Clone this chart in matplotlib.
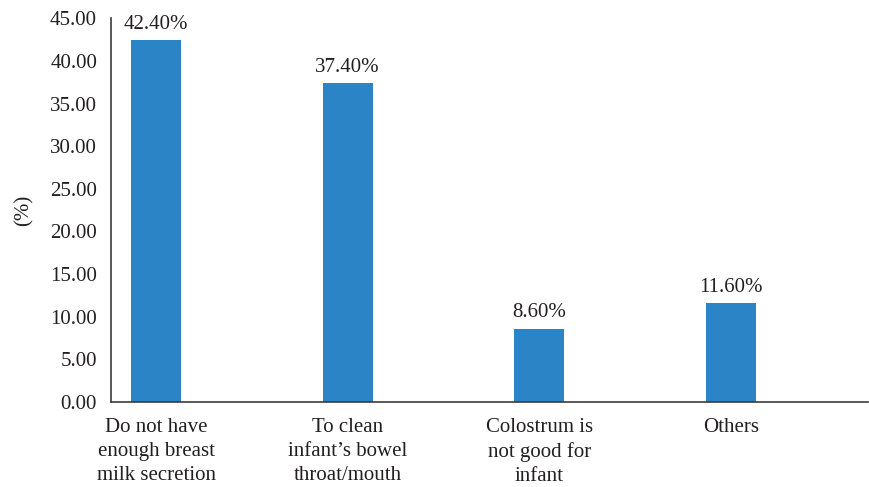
import matplotlib.pyplot as plt
from matplotlib.ticker import FormatStrFormatter

categories = ['Do not have\nenough breast\nmilk secretion',
              'To clean\ninfant\u2019s bowel\nthroat/mouth',
              'Colostrum is\nnot good for\ninfant',
              'Others']
values = [42.40, 37.40, 8.60, 11.60]

plt.rcParams['font.family'] = ['Liberation Serif', 'DejaVu Serif']
fs = 15

fig = plt.figure(figsize=(8.69, 4.87), dpi=100)
ax = fig.add_axes([0.1277, 0.1745, 0.871, 0.788])

x = range(len(categories))
bars = ax.bar(x, values, width=0.26, color='#2a84c6')
for b, v in zip(bars, values):
    ax.text(b.get_x() + b.get_width() / 2, v + 0.75, f'{v:.2f}%',
            ha='center', va='bottom', fontsize=fs, color='#231f20')

ax.set_xlim(-0.235, 3.714)
ax.set_ylim(0, 45)
ax.set_yticks(range(0, 46, 5))
ax.yaxis.set_major_formatter(FormatStrFormatter('%.2f'))
ax.set_xticks(list(x))
ax.set_xticklabels(categories, linespacing=1.36)
ax.tick_params(axis='both', length=0, colors='#231f20', labelsize=fs)
ax.tick_params(axis='y', pad=10)
ax.tick_params(axis='x', pad=11.5)
ax.set_ylabel('(%)', fontsize=fs, color='#231f20', labelpad=12)

for s in ['top', 'right']:
    ax.spines[s].set_visible(False)
for s in ['left', 'bottom']:
    ax.spines[s].set_color('#3c3c3c')
    ax.spines[s].set_linewidth(1.2)

fig.savefig('out.png', dpi=100)
